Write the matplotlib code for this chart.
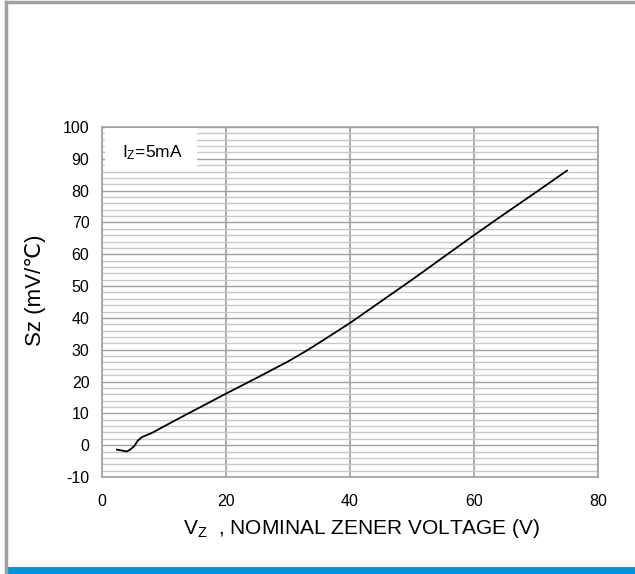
import matplotlib
matplotlib.use("Agg")
import matplotlib.pyplot as plt
from matplotlib.patches import Rectangle
from matplotlib.lines import Line2D

plt.rcParams['font.family'] = ['Liberation Sans', 'DejaVu Sans']
plt.rcParams['mathtext.default'] = 'regular'
plt.rcParams['axes.unicode_minus'] = False

# -------------------------
# data
# -------------------------
vz = [2.4, 3.0, 4.0, 4.6, 5.2, 5.8, 6.5, 8.0, 12.0, 16.0, 20.0, 25.0, 30.0,
      33.0, 36.0, 40.0, 45.0, 50.0, 55.0, 60.0, 65.0, 70.0, 75.0]
sz = [-1.4, -1.6, -2.0, -1.3, -0.3, 1.5, 2.6, 3.8, 8.0, 12.1, 16.2, 21.2, 26.3,
      29.7, 33.4, 38.4, 45.2, 52.0, 59.0, 66.0, 72.8, 79.5, 86.3]

xticks = [0, 20, 40, 60, 80]
yticks = [-10, 0, 10, 20, 30, 40, 50, 60, 70, 80, 90, 100]
label_text = "I$_Z$=5mA"

W, H = 635, 574
fig = plt.figure(figsize=(W / 100, H / 100), dpi=100)
ax = fig.add_axes([102 / W, 1 - 477 / H, (598 - 102) / W, (477 - 127) / H])

# minor / major grid
ax.set_xlim(0, 80)
ax.set_ylim(-10, 100)
ax.set_xticks(xticks)
ax.set_yticks(yticks)
ax.set_yticks(range(-10, 101, 2), minor=True)
ax.grid(True, which="minor", axis="y", color="#c8c8c8", lw=1.0)
ax.grid(True, which="major", axis="y", color="#a0a0a0", lw=1.0)
ax.grid(True, which="major", axis="x", color="#a0a0a0", lw=1.2)
ax.set_axisbelow(True)
ax.tick_params(which="both", length=0, labelsize=11.5)
ax.tick_params(axis="y", pad=9)
ax.tick_params(axis="x", pad=12)
for s in ax.spines.values():
    s.set_color("#a0a0a0")
    s.set_linewidth(1.2)

ax.plot(vz, sz, color="black", lw=1.3, zorder=3)

# label box
ax.add_patch(Rectangle((0.5, 86.3), 14.8, 13.5, fc="white", ec="none", zorder=2.5))
ax.text(3.2, 92.0, label_text, fontsize=12.5, va="center", ha="left", zorder=4)

ax.set_xlabel("V$_Z$  , NOMINAL ZENER VOLTAGE (V)", fontsize=15, labelpad=6, x=0.523)
ax.set_ylabel("Sz (mV/\u2103)", fontsize=16, labelpad=12, y=0.535)

# frame of the picture
fig.add_artist(Line2D([6 / W, 6 / W], [0, 1 - 2 / H], color="#a0a0a0", lw=2.5))
fig.add_artist(Line2D([6 / W, 1], [1 - 2 / H, 1 - 2 / H], color="#a0a0a0", lw=2.5))
fig.add_artist(Rectangle((7 / W, 0), 1, 7 / H, color="#0097d6", lw=0))

fig.savefig("out.png", dpi=100)
